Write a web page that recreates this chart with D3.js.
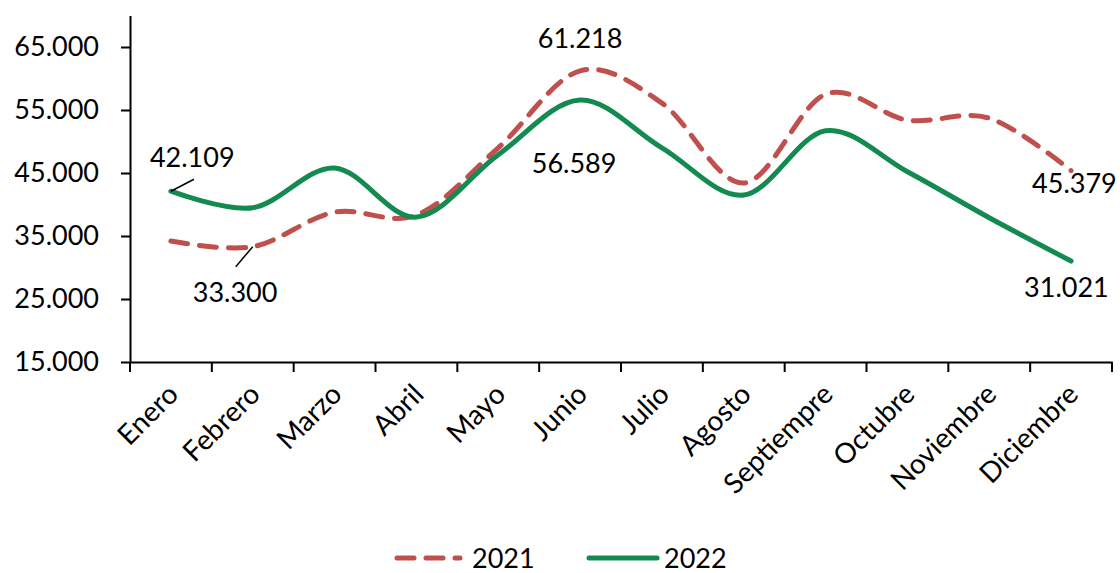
<!DOCTYPE html>
<html><head><meta charset="utf-8">
<script src="https://cdn.jsdelivr.net/npm/d3@7"></script>
<style>body{margin:0;background:#fff}svg{display:block}text{font-family:Lato,"Open Sans",sans-serif;fill:#000}</style>
</head><body><svg id="c" width="1120" height="573"></svg>
<script>
const months = ["Enero","Febrero","Marzo","Abril","Mayo","Junio","Julio","Agosto","Septiempre","Octubre","Noviembre","Diciembre"];
const s2021 = [34200,33300,38800,38300,49000,61218,56100,43400,57500,53400,53700,45379];
const s2022 = [42109,39500,45800,38000,47900,56589,49000,41500,51700,45200,37900,31021];
const yTicks = [15000,25000,35000,45000,55000,65000];
const seriesNames = ["2021","2022"];
const colors = {"2021":"#C0504D","2022":"#138A4F"};

const svg = d3.select("#c");
const x = d3.scalePoint().domain(months).range([130,1112]).padding(0.5);
const xb = d3.scaleBand().domain(months).range([130,1112]);
const y = d3.scaleLinear().domain([15000,70000]).range([362,15.5]);
const fmt = v => d3.format(",")(v).replace(/,/g,".");

// y axis
const ya = svg.append("g").attr("transform","translate(130,0)")
  .call(d3.axisLeft(y).tickValues(yTicks).tickSize(9).tickSizeOuter(0).tickFormat(fmt).tickPadding(22));
ya.select(".domain").attr("stroke","#000").attr("stroke-width",2);
ya.selectAll(".tick line").attr("stroke","#000").attr("stroke-width",2);
ya.selectAll(".tick text").attr("font-size",27).attr("fill","#000").attr("font-family","Lato");

// x axis
const xa = svg.append("g").attr("transform","translate(0,362)")
  .call(d3.axisBottom(xb).tickSize(0).tickSizeOuter(0).tickFormat(""));
xa.select(".domain").attr("stroke","#000").attr("stroke-width",2);
const tickPos = months.map(m=>xb(m)).concat([xb.range()[1]]);
svg.append("g").selectAll("line").data(tickPos).join("line")
  .attr("x1",d=>d).attr("x2",d=>d).attr("y1",362).attr("y2",372)
  .attr("stroke","#000").attr("stroke-width",2);
svg.append("g").selectAll("text").data(months).join("text")
  .attr("transform",d=>`translate(${x(d)+9},396) rotate(-45)`)
  .attr("text-anchor","end").attr("font-size",28).text(d=>d);

// lines
const line = d3.line().x((d,i)=>x(months[i])).y(d=>y(d)).curve(d3.curveCatmullRom.alpha(0));
svg.append("path").datum(s2021).attr("d",line).attr("fill","none")
  .attr("stroke",colors["2021"]).attr("stroke-width",5).attr("stroke-dasharray","17,12").attr("stroke-linecap","round");
svg.append("path").datum(s2022).attr("d",line).attr("fill","none")
  .attr("stroke",colors["2022"]).attr("stroke-width",5).attr("stroke-linecap","round");

// data labels
const labels = [
  {s:s2022,i:0,dx:-21,dy:-24,anchor:"start",leader:[[0,0],[23,-12]]},
  {s:s2021,i:1,dx:-60,dy:55,anchor:"start",leader:[[0,0],[-17,20]]},
  {s:s2021,i:5,dx:0,dy:-23,anchor:"middle"},
  {s:s2022,i:5,dx:-6,dy:73,anchor:"middle"},
  {s:s2021,i:11,dx:-39,dy:22,anchor:"start"},
  {s:s2022,i:11,dx:-47,dy:36,anchor:"start"}
];
labels.forEach(l=>{
  const px = x(months[l.i]), py = y(l.s[l.i]);
  svg.append("text").attr("x",px+l.dx).attr("y",py+l.dy).attr("text-anchor",l.anchor)
    .attr("font-size",27).text(fmt(l.s[l.i]));
  if(l.leader){
    svg.append("line").attr("x1",px+l.leader[0][0]).attr("y1",py+l.leader[0][1])
      .attr("x2",px+l.leader[1][0]).attr("y2",py+l.leader[1][1]).attr("stroke","#000").attr("stroke-width",1.5);
  }
});

// legend
const lg = svg.append("g").attr("transform","translate(0,558)");
lg.append("line").attr("x1",397).attr("x2",460).attr("stroke",colors["2021"]).attr("stroke-width",5)
  .attr("stroke-dasharray","17,12").attr("stroke-linecap","round");
lg.append("text").attr("x",472).attr("y",10).attr("font-size",27).text(seriesNames[0]);
lg.append("line").attr("x1",589).attr("x2",657).attr("stroke",colors["2022"]).attr("stroke-width",5).attr("stroke-linecap","round");
lg.append("text").attr("x",664).attr("y",10).attr("font-size",27).text(seriesNames[1]);
</script></body></html>
